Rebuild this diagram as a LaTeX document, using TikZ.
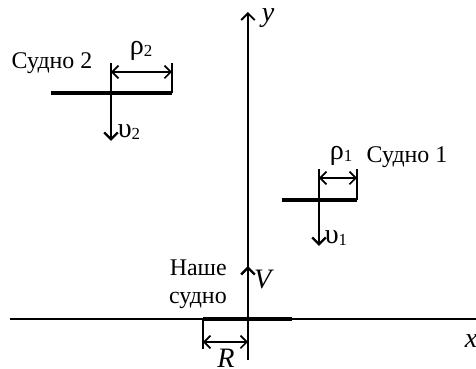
\documentclass[tikz,border=0pt]{standalone}
\usepackage{fontspec}
\setmainfont{Liberation Serif}
\usetikzlibrary{arrows.meta,positioning,calc}
\tikzset{
  axisline/.style={line width=1.3pt},
  shipline/.style={line width=3.4pt},
  axisarrow/.style={-{Straight Barb[length=1.7mm,width=3.4mm]}, line width=1.3pt},
  velarrow/.style={-{Straight Barb[length=1.7mm,width=3.4mm]}, line width=1.7pt},
  dimarrow/.style={{Straight Barb[length=1.6mm,width=3.2mm]}-{Straight Barb[length=1.6mm,width=3.2mm]}, line width=1.2pt},
  extline/.style={line width=1.1pt},
  lbl/.style={font=\fontsize{17}{20}\selectfont, inner sep=0pt},
  symlbl/.style={font=\fontsize{20}{22}\selectfont, inner sep=0pt}
}
\begin{document}
\begin{tikzpicture}[x=0.25mm,y=-0.25mm]
  \clip (0,0) rectangle (476,369);
  % axes
  \coordinate (xl) at (10,319);
  \coordinate (xr) at (484,319);
  \coordinate (yb) at (248,360);
  \coordinate (yt) at (248,12);
  \draw[axisline] (xl) -- (xr);
  \draw[axisarrow] (yb) -- (yt);
  \node[symlbl] (ylab) at (268,18) {\textit{y}};
  \node[symlbl] (xlab) at (471,341) {\textit{x}};
  % our ship
  \coordinate (s0l) at (203,319);
  \coordinate (s0c) at (248,319);
  \coordinate (s0r) at (292,319);
  \coordinate (s0v) at (248,266);
  \coordinate (s0e) at (203,349);
  \draw[shipline] (s0l) -- (s0r);
  \draw[velarrow] (s0c) -- (s0v);
  \draw[extline] (s0l) -- (s0e);
  \draw[dimarrow] ($(s0l)+(0,23)$) -- ($(s0c)+(0,23)$);
  \node[symlbl] (Rlab) at (226,358) {\textit{R}};
  \node[symlbl] (Vlab) at (264,280) {\textit{V}};
  \node[lbl,align=right,anchor=east] (ours) at (227,284) {Наше\\судно};
  % ship 2
  \coordinate (s2l) at (51,93);
  \coordinate (s2c) at (111,93);
  \coordinate (s2r) at (172,93);
  \coordinate (s2v) at (111,141);
  \draw[shipline] (s2l) -- (s2r);
  \draw[velarrow] (s2c) -- (s2v);
  \draw[extline] (s2c) -- ++(0,-30);
  \draw[extline] (s2r) -- ++(0,-30);
  \draw[dimarrow] ($(s2c)+(0,-21)$) -- ($(s2r)+(0,-21)$);
  \node[symlbl] (rho2) at (141,51) {ρ{\fontsize{12}{14}\selectfont\raisebox{-0.3ex}{2}}};
  \node[symlbl] (ups2) at (129,132) {υ{\fontsize{12}{14}\selectfont\raisebox{-0.3ex}{2}}};
  \node[lbl] (ship2) at (52,63) {Судно 2};
  % ship 1
  \coordinate (s1l) at (282,200);
  \coordinate (s1c) at (319,200);
  \coordinate (s1r) at (357,200);
  \coordinate (s1v) at (319,246);
  \draw[shipline] (s1l) -- (s1r);
  \draw[velarrow] (s1c) -- (s1v);
  \draw[extline] (s1c) -- ++(0,-31);
  \draw[extline] (s1r) -- ++(0,-31);
  \draw[dimarrow] ($(s1c)+(0,-22)$) -- ($(s1r)+(0,-22)$);
  \node[symlbl] (rho1) at (341,156) {ρ{\fontsize{12}{14}\selectfont\raisebox{-0.3ex}{1}}};
  \node[symlbl] (ups1) at (336,238) {υ{\fontsize{12}{14}\selectfont\raisebox{-0.3ex}{1}}};
  \node[lbl] (ship1) at (407,157) {Судно 1};
\end{tikzpicture}
\end{document}
